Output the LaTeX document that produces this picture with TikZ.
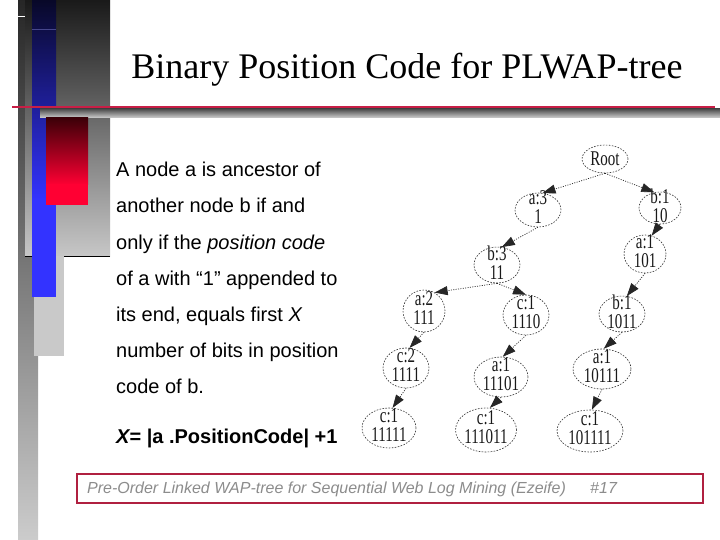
\documentclass[tikz,border=0pt]{standalone}
\usepackage{fontspec}
\usepackage{graphicx}
\setmainfont{Liberation Serif}
\newfontfamily\arialf{Liberation Sans}
\usetikzlibrary{shapes.geometric,arrows.meta}
\definecolor{crim}{RGB}{200,30,70}
\definecolor{footred}{RGB}{176,32,64}
\definecolor{navytop}{RGB}{8,8,40}
\definecolor{bblue}{RGB}{51,51,255}
\definecolor{bline}{RGB}{70,70,140}
\definecolor{redtop}{RGB}{60,0,8}
\definecolor{bred}{RGB}{255,0,51}
\newcommand{\twol}[2]{\scalebox{1}[1.4]{\begin{tabular}{@{}c@{}}#1\\#2\end{tabular}}}
\begin{document}
\begin{tikzpicture}[x=1pt,y=-1pt,
 tn/.style={ellipse, draw=black!80, line width=0.6pt, dash pattern=on 1.6pt off 1.4pt, inner sep=0pt},
 tt/.style={font=\fontsize{15}{12.5}\selectfont, text=black!90, align=center, inner sep=0pt},
 edge/.style={draw=black!85, line width=0.7pt, dash pattern=on 1pt off 1.4pt, -{Triangle[length=13pt,width=9pt]}},
 body/.style={anchor=base west, inner sep=0pt, font=\arialf\fontsize{20}{24}\selectfont}]
\useasboundingbox (0,0) rectangle (720,540);
\fill[white] (0,0) rectangle (720,540);
% left decoration
\fill[top color=black!85, bottom color=black!20] (18,0) rectangle (38,540);
\fill[top color=black!90, middle color=black!45, bottom color=black!22] (25,0) rectangle (110,256);
\draw[black, line width=0.6pt] (25,256) -- (110,256);
\fill[black!21] (34,256) rectangle (64,356);
\fill[top color=navytop, bottom color=bblue] (32,0) rectangle (56,200);
\fill[bblue] (32,199.5) rectangle (56,297);
\draw[bline, line width=0.6pt] (32,29) -- (56,29);
\draw[white, line width=0.8pt] (16,16) -- (25,16);
\fill[top color=black!70, bottom color=black!18] (40,109) rectangle (720,118);
\fill[top color=redtop, bottom color=bred] (46,118) rectangle (88,185);
\fill[bred] (46,184.5) rectangle (88,205);
\draw[crim, line width=2.6pt] (12,107) -- (715,107);
% title
\node[anchor=base, inner sep=0pt, font=\fontsize{36}{40}\selectfont] (title) at (407,79) {Binary Position Code for PLWAP-tree};
% body text
\node[body] (l1) at (116,177) {A node a is ancestor of};
\node[body] (l2) at (116,213) {another node b if and};
\node[body] (l3) at (116,249) {only if the \textit{position code}};
\node[body] (l4) at (116,285) {of a with “1” appended to};
\node[body] (l5) at (116,321) {its end, equals first \textit{X}};
\node[body] (l6) at (116,357) {number of bits in position};
\node[body] (l7) at (116,393) {code of b.};
\node[body] (l8) at (116,443) {\bfseries\itshape X\upshape= |a .PositionCode| +1};
% tree
\node[tn, minimum width=46pt, minimum height=28pt] (root) at (605,159) {};
\node[tt] (root-t) at (root) {\scalebox{1}[1.4]{Root}};
\node[tn, minimum width=46pt, minimum height=34pt] (a3) at (538,210) {};
\node[tt] (a3-t) at (a3) {\twol{a:3}{1}};
\node[tn, minimum width=42pt, minimum height=32pt] (b1) at (660,208) {};
\node[tt] (b1-t) at (b1) {\twol{b:1}{10}};
\node[tn, minimum width=42pt, minimum height=38pt] (a1r) at (645,254) {};
\node[tt] (a1r-t) at (a1r) {\twol{a:1}{101}};
\node[tn, minimum width=46pt, minimum height=36pt] (b3) at (497,265) {};
\node[tt] (b3-t) at (b3) {\twol{b:3}{11}};
\node[tn, minimum width=42pt, minimum height=42pt] (a2) at (424,311) {};
\node[tt] (a2-t) at (a2) {\twol{a:2}{111}};
\node[tn, minimum width=46pt, minimum height=40pt] (c1m) at (526,315) {};
\node[tt] (c1m-t) at (c1m) {\twol{c:1}{1110}};
\node[tn, minimum width=46pt, minimum height=36pt] (b1r) at (622,314) {};
\node[tt] (b1r-t) at (b1r) {\twol{b:1}{1011}};
\node[tn, minimum width=46pt, minimum height=40pt] (c2) at (406,368) {};
\node[tt] (c2-t) at (c2) {\twol{c:2}{1111}};
\node[tn, minimum width=54pt, minimum height=40pt] (a1m) at (501,377) {};
\node[tt] (a1m-t) at (a1m) {\twol{a:1}{11101}};
\node[tn, minimum width=58pt, minimum height=40pt] (a1rr) at (602,369) {};
\node[tt] (a1rr-t) at (a1rr) {\twol{a:1}{10111}};
\node[tn, minimum width=54pt, minimum height=40pt] (c1l) at (389,428) {};
\node[tt] (c1l-t) at (c1l) {\twol{c:1}{11111}};
\node[tn, minimum width=61pt, minimum height=44pt] (c1mm) at (486,430) {};
\node[tt] (c1mm-t) at (c1mm) {\twol{c:1}{111011}};
\node[tn, minimum width=66pt, minimum height=42pt] (c1rr) at (590,431) {};
\node[tt] (c1rr-t) at (c1rr) {\twol{c:1}{101111}};
\draw[edge] (root.south) -- (a3.75);
\draw[edge] (root.south) -- (b1.110);
\draw[edge] (a3.south) -- (b3.75);
\draw[edge] (b1.south) -- (a1r.70);
\draw[edge] (b3.south) -- (a2.60);
\draw[edge] (b3.south) -- (c1m.north);
\draw[edge] (a1r.south) -- (b1r.75);
\draw[edge] (a2.south) -- (c2.80);
\draw[edge] (c1m.south) -- (a1m.85);
\draw[edge] (b1r.south) -- (a1rr.85);
\draw[edge] (c2.south) -- (c1l.80);
\draw[edge] (a1m.south) -- (c1mm.80);
\draw[edge] (a1rr.south) -- (c1rr.85);
% footer
\draw[footred, line width=2pt] (77,474) rectangle (703,503);
\node[anchor=base west, inner sep=0pt, text=black!45, font=\arialf\itshape\fontsize{16}{18}\selectfont] (foot) at (87,493) {Pre-Order Linked WAP-tree for Sequential Web Log Mining (Ezeife)};
\node[anchor=base west, inner sep=0pt, text=black!45, font=\arialf\itshape\fontsize{16}{18}\selectfont] (pg) at (590,493) {\#17};
\end{tikzpicture}
\end{document}
